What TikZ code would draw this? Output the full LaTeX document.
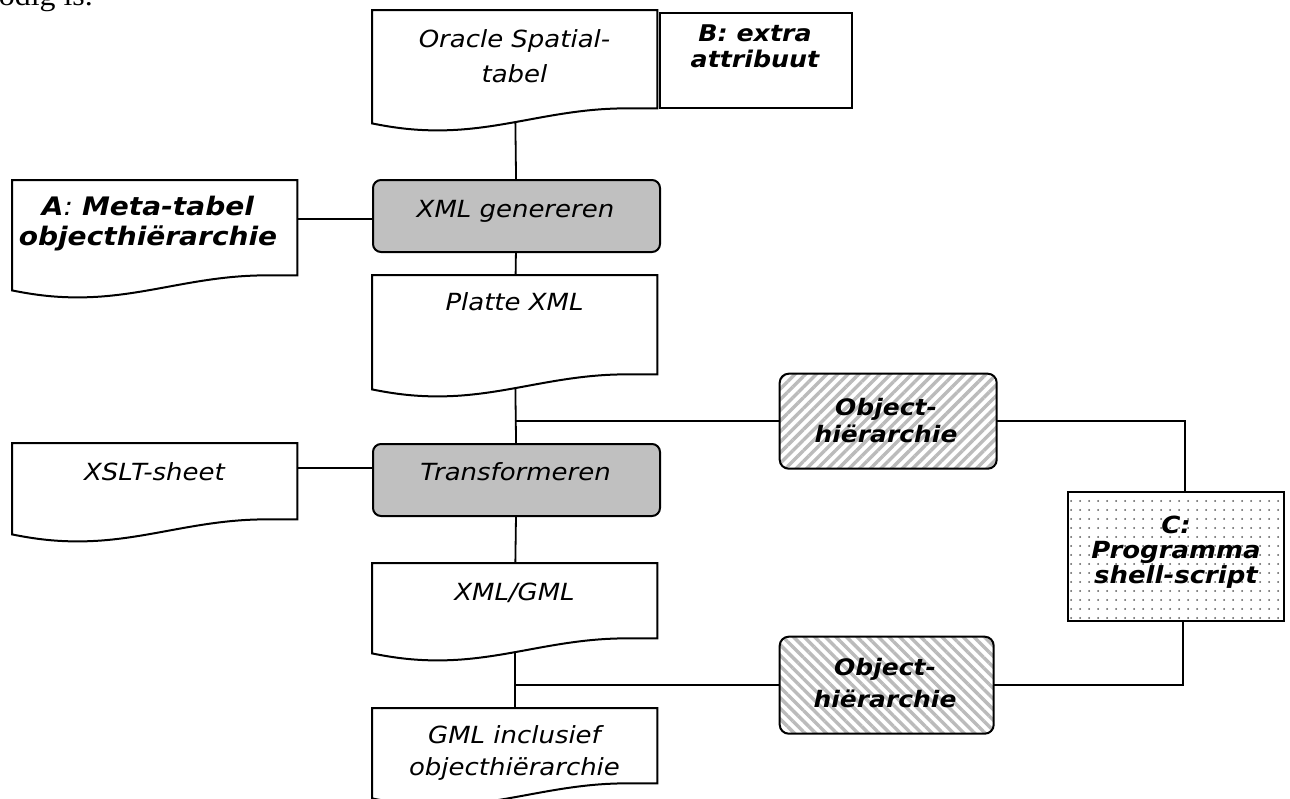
\documentclass[tikz,border=0pt]{standalone}
\usepackage{fontspec}
\setmainfont{DejaVu Sans}[FakeStretch=1.1]
\newfontfamily\notefont{Liberation Serif}[FakeStretch=1.1]
\usetikzlibrary{patterns.meta,calc}
\pgfdeclarelayer{bg}
\pgfsetlayers{bg,main}
\definecolor{procgray}{HTML}{C0C0C0}
\definecolor{hatchgray}{HTML}{BBBBBB}
\tikzset{
  lw/.style={line width=2pt},
  docarea/.style={inner sep=0pt, minimum width=285pt, anchor=north west},
  proc/.style={draw, lw, rounded corners=8pt, fill=procgray, inner sep=0pt, minimum width=287pt, minimum height=72pt, anchor=north west},
  hatchbox/.style={draw, lw, rounded corners=9pt, inner sep=0pt, anchor=north west, preaction={fill=white}, pattern color=hatchgray},
  txt/.style={inner sep=0pt, align=center, font=\fontsize{23.6}{35}\selectfont\itshape},
  btxt/.style={inner sep=0pt, align=center, font=\fontsize{23}{26}\selectfont\bfseries\itshape},
  conn/.style={line width=1.8pt},
}
\newcommand\docshape[1]{%
  \draw[lw, fill=white] (#1.south west) -- (#1.north west) -- (#1.north east)
    -- ([yshift=15pt]#1.south east) -- ([xshift=-36pt,yshift=15pt]#1.south east)
    .. controls ([xshift=-105pt,yshift=14pt]#1.south east) and ([xshift=-155pt,yshift=-7pt]#1.south east)
    .. ([xshift=66pt,yshift=-7pt]#1.south west)
    .. controls ([xshift=40pt,yshift=-7pt]#1.south west) and ([xshift=20pt,yshift=-4pt]#1.south west)
    .. cycle;}
\begin{document}
\begin{tikzpicture}[x=1pt,y=-1pt]
\useasboundingbox (0,0) rectangle (1290,798);
% note fragment (cut by the page edge, as in the reference)
\node[anchor=base east, inner sep=0pt, font=\notefont\fontsize{29}{30}\selectfont] (note) at (93,5) {nodig is.};
% shape areas
\node[docarea, minimum height=113pt] (oracle) at (372,10) {};
\node[draw, lw, inner sep=0pt, minimum width=192pt, minimum height=95pt, anchor=north west] (battr) at (659,12) {};
\node[proc] (gen) at (372,179) {};
\node[docarea, minimum height=110pt] (adoc) at (12,180) {};
\node[docarea, minimum height=114pt] (platte) at (372,275) {};
\node[proc] (trans) at (372,443) {};
\node[docarea, minimum height=91pt] (xslt) at (12,443) {};
\node[docarea, minimum height=90pt] (xmlgml) at (372,563) {};
\node[docarea, minimum height=90pt] (gmldoc) at (372,708) {};
\node[hatchbox, minimum width=217pt, minimum height=95pt, pattern={Lines[angle=45,distance=7.5pt,line width=3.4pt]}] (obj1) at (778,372) {};
\node[hatchbox, minimum width=214pt, minimum height=97pt, pattern={Lines[angle=-45,distance=7.5pt,line width=3.4pt]}] (obj2) at (778,635) {};
\node[draw, lw, inner sep=0pt, anchor=north west, minimum width=216pt, minimum height=129pt, preaction={fill=white}, pattern={Dots[distance=9pt,radius=1pt]}, pattern color=black!65] (cbox) at (1067,491) {};
\coordinate (j1) at (platte.center |- obj1.center);
\coordinate (j2) at (xmlgml.center |- obj2.center);
\coordinate (ctop) at ([xshift=9pt]cbox.center);
\coordinate (cbot) at ([xshift=7pt]cbox.center);
% connectors
\begin{pgfonlayer}{bg}
\draw[conn] (oracle.center) -- (gen.center);
\draw[conn] (gen.center) -- (platte.center);
\draw[conn] (platte.center) -- (trans.center);
\draw[conn] (trans.center) -- (xmlgml.center);
\draw[conn] (xmlgml.center) -- (gmldoc.center);
\draw[conn] ([yshift=-3pt]gen.center) -- ([yshift=-3pt]gen.center -| adoc.center);
\draw[conn] ([yshift=12pt]trans.center) -- ([yshift=12pt]trans.center -| xslt.center);
\draw[conn] (j1) -- (obj1.center);
\draw[conn] (obj1.center) -| (ctop);
\draw[conn] (j2) -- (obj2.center);
\draw[conn] (obj2.center) -| (cbot);
\end{pgfonlayer}
% documents
\docshape{oracle}
\docshape{adoc}
\docshape{platte}
\docshape{xslt}
\docshape{xmlgml}
\docshape{gmldoc}
% texts
\node[txt, anchor=north] (oracle-t) at (514.5,29) {Oracle Spatial-\\tabel};
\node[btxt, anchor=north] (battr-t) at (755,25) {B: extra\\attribuut};
\node[btxt, anchor=north, font=\fontsize{25.5}{30}\selectfont\itshape] (adoc-t) at (148,196) {\textbf{A}: \textbf{Meta-tabel}\\\textbf{objecthiërarchie}};
\node[txt, anchor=base] (gen-t) at (515.5,217) {XML genereren};
\node[txt, anchor=base] (platte-t) at (514.5,310) {Platte XML};
\node[txt, anchor=base] (trans-t) at (515.5,480) {Transformeren};
\node[txt, anchor=base] (xslt-t) at (154.5,480) {XSLT-sheet};
\node[txt, anchor=base] (xmlgml-t) at (514.5,600) {XML/GML};
\node[txt, anchor=north, font=\fontsize{23.6}{32}\selectfont\itshape] (gmldoc-t) at (514.5,725) {GML inclusief\\objecthiërarchie};
\node[btxt, anchor=north, font=\fontsize{22.7}{27}\selectfont\bfseries\itshape] (obj1-t) at (886,398) {Object-\\hiërarchie};
\node[btxt, anchor=north, font=\fontsize{22.7}{32}\selectfont\bfseries\itshape] (obj2-t) at (885,658) {Object-\\hiërarchie};
\node[btxt, anchor=north, font=\fontsize{23.6}{25}\selectfont\bfseries\itshape] (cbox-t) at (1176,516) {C:\\Programma\\shell-script};
\end{tikzpicture}
\end{document}
